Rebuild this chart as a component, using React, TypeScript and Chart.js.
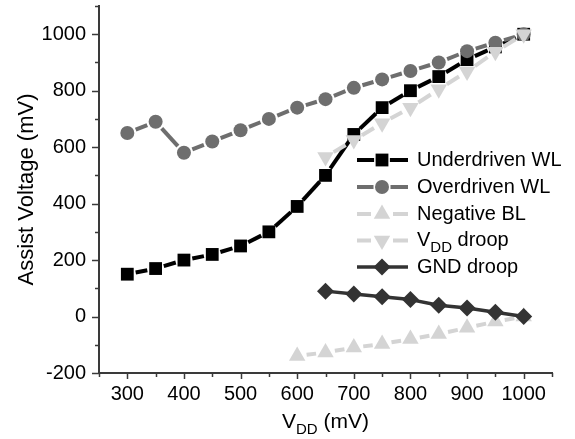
import React, { useEffect, useRef } from 'react';
import { Chart, registerables } from 'chart.js';

Chart.register(...registerables);

// ---------- data ----------
const vddAll = [300, 350, 400, 450, 500, 550, 600, 650, 700, 750, 800, 850, 900, 950, 1000];
const underdrivenWL = [150, 170, 200, 220, 250, 300, 390, 500, 645, 740, 800, 850, 910, 955, 1000];
const overdrivenWL = [650, 690, 580, 620, 660, 700, 740, 770, 810, 840, 870, 900, 940, 970, 1000];

const vddNegBL = [600, 650, 700, 750, 800, 850, 900, 950, 1000];
const negativeBL = [-140, -127, -110, -97, -80, -62, -40, -18, 0];

const vddDroopX = [650, 700, 750, 800, 850, 900, 950, 1000];
const vddDroop = [565, 625, 685, 740, 805, 868, 938, 1000];

const vddGnd = [650, 700, 750, 800, 850, 900, 950, 1000];
const gndDroop = [90, 80, 70, 60, 40, 30, 15, 0];

const xTickLabels = [300, 400, 500, 600, 700, 800, 900, 1000];
const yTickLabels = [-200, 0, 200, 400, 600, 800, 1000];
const xMinorTicks = [250, 350, 450, 550, 650, 750, 850, 950, 1050];
const yMinorTicks = [-100, 100, 300, 500, 700, 900, 1100];

const FONT = "'Liberation Sans', Arial, Helvetica, sans-serif";

type Series = {
  label: string;
  sub?: [string, string, string];
  xs: number[];
  ys: number[];
  color: string;
  shape: string;
  radius: number;
  gap: number;
  lw: number;
};

const seriesList: Series[] = [
  { label: 'Underdriven WL', xs: vddAll, ys: underdrivenWL, color: '#000000', shape: 'square', radius: 6.4, gap: 8.5, lw: 4 },
  { label: 'Overdriven WL', xs: vddAll, ys: overdrivenWL, color: '#6e6e6e', shape: 'circle', radius: 7, gap: 9, lw: 4 },
  { label: 'Negative BL', xs: vddNegBL, ys: negativeBL, color: '#d4d4d4', shape: 'up', radius: 9.5, gap: 9.5, lw: 4 },
  { label: 'VDD droop', sub: ['V', 'DD', ' droop'], xs: vddDroopX, ys: vddDroop, color: '#d4d4d4', shape: 'down', radius: 9.5, gap: 9.5, lw: 4 },
  { label: 'GND droop', xs: vddGnd, ys: gndDroop, color: '#333333', shape: 'diamond', radius: 8.5, gap: 0, lw: 3.5 },
];

function drawMarker(ctx: CanvasRenderingContext2D, shape: string, x: number, y: number, r: number, color: string) {
  ctx.save();
  ctx.fillStyle = color;
  ctx.beginPath();
  if (shape === 'square') {
    ctx.rect(x - r, y - r, 2 * r, 2 * r);
  } else if (shape === 'circle') {
    ctx.arc(x, y, r, 0, Math.PI * 2);
  } else if (shape === 'up' || shape === 'down') {
    const s = shape === 'up' ? -1 : 1;
    for (let k = 0; k < 3; k++) {
      const a = (k * 2 * Math.PI) / 3;
      const px = x + Math.sin(a) * r;
      const py = y + s * Math.cos(a) * r;
      if (k === 0) ctx.moveTo(px, py);
      else ctx.lineTo(px, py);
    }
    ctx.closePath();
  } else if (shape === 'diamond') {
    ctx.moveTo(x, y - r);
    ctx.lineTo(x + r, y);
    ctx.lineTo(x, y + r);
    ctx.lineTo(x - r, y);
    ctx.closePath();
  }
  ctx.fill();
  ctx.restore();
}

const customPlugin = {
  id: 'customDraw',
  beforeDatasetDraw(chart: any, args: any) {
    const ctx: CanvasRenderingContext2D = chart.ctx;
    const s = seriesList[args.index];
    const pts = args.meta.data;
    ctx.save();
    ctx.strokeStyle = s.color;
    ctx.lineWidth = s.lw;
    ctx.lineCap = 'butt';
    ctx.lineJoin = 'round';
    if (s.gap === 0) {
      ctx.beginPath();
      pts.forEach((p: any, i: number) => (i === 0 ? ctx.moveTo(p.x, p.y) : ctx.lineTo(p.x, p.y)));
      ctx.stroke();
    } else {
      for (let i = 0; i < pts.length - 1; i++) {
        const p = pts[i];
        const q = pts[i + 1];
        const dx = q.x - p.x;
        const dy = q.y - p.y;
        const len = Math.hypot(dx, dy);
        if (len <= 2 * s.gap) continue;
        const ux = dx / len;
        const uy = dy / len;
        ctx.beginPath();
        ctx.moveTo(p.x + ux * s.gap, p.y + uy * s.gap);
        ctx.lineTo(q.x - ux * s.gap, q.y - uy * s.gap);
        ctx.stroke();
      }
    }
    ctx.restore();
  },
  afterDatasetDraw(chart: any, args: any) {
    const ctx: CanvasRenderingContext2D = chart.ctx;
    const s = seriesList[args.index];
    args.meta.data.forEach((p: any) => drawMarker(ctx, s.shape, p.x, p.y, s.radius, s.color));
  },
  afterDraw(chart: any) {
    const ctx: CanvasRenderingContext2D = chart.ctx;
    const xs = chart.scales.x;
    const ys = chart.scales.y;
    const area = chart.chartArea;
    ctx.save();
    ctx.strokeStyle = '#3a3a3a';
    ctx.lineWidth = 1.5;
    // x ticks
    const xt = [...xTickLabels.map((v) => [v, 6]), ...xMinorTicks.map((v) => [v, 4])];
    xt.forEach(([v, l]) => {
      const px = Math.round(xs.getPixelForValue(v)) + 0.5;
      ctx.beginPath();
      ctx.moveTo(px, area.bottom);
      ctx.lineTo(px, area.bottom + l);
      ctx.stroke();
    });
    const yt = [...yTickLabels.map((v) => [v, 7]), ...yMinorTicks.map((v) => [v, 4])];
    yt.forEach(([v, l]) => {
      const py = Math.round(ys.getPixelForValue(v)) + 0.5;
      ctx.beginPath();
      ctx.moveTo(area.left, py);
      ctx.lineTo(area.left - l, py);
      ctx.stroke();
    });
    ctx.restore();

    // axis titles
    ctx.save();
    ctx.fillStyle = '#000';
    ctx.textBaseline = 'middle';
    ctx.font = `22px ${FONT}`;
    ctx.translate(27, (area.top + area.bottom) / 2);
    ctx.rotate(-Math.PI / 2);
    ctx.textAlign = 'center';
    ctx.fillText('Assist Voltage (mV)', 0, 0);
    ctx.restore();

    ctx.save();
    ctx.fillStyle = '#000';
    ctx.textBaseline = 'alphabetic';
    const bigF = `21px ${FONT}`;
    const smallF = `15px ${FONT}`;
    ctx.font = bigF;
    const wV = ctx.measureText('V').width;
    const wRest = ctx.measureText(' (mV)').width;
    ctx.font = smallF;
    const wDD = ctx.measureText('DD').width;
    const total = wV + wDD + wRest;
    let tx = (area.left + area.right) / 2 - total / 2;
    const base = 428;
    ctx.font = bigF;
    ctx.fillText('V', tx, base);
    tx += wV;
    ctx.font = smallF;
    ctx.fillText('DD', tx, base + 6);
    tx += wDD;
    ctx.font = bigF;
    ctx.fillText(' (mV)', tx, base);
    ctx.restore();

    // legend
    const rowY = [160, 187, 214, 240.5, 267];
    const lx0 = 357;
    const lx1 = 408;
    const mx = 382;
    const textX = 417;
    seriesList.forEach((s, i) => {
      const y = rowY[i];
      ctx.save();
      ctx.strokeStyle = s.color;
      ctx.lineWidth = s.lw;
      const g = s.gap === 0 ? 0 : s.radius + 1.5;
      ctx.beginPath();
      if (g === 0) {
        ctx.moveTo(lx0, y);
        ctx.lineTo(lx1, y);
      } else {
        ctx.moveTo(lx0, y);
        ctx.lineTo(mx - g, y);
        ctx.moveTo(mx + g, y);
        ctx.lineTo(lx1, y);
      }
      ctx.stroke();
      ctx.restore();
      drawMarker(ctx, s.shape, mx, y, s.radius, s.color);
      ctx.save();
      ctx.fillStyle = '#000';
      ctx.textBaseline = 'middle';
      ctx.textAlign = 'left';
      const big = `20px ${FONT}`;
      const small = `15px ${FONT}`;
      if (s.sub) {
        let x = textX;
        ctx.font = big;
        ctx.fillText(s.sub[0], x, y);
        x += ctx.measureText(s.sub[0]).width;
        ctx.font = small;
        ctx.fillText(s.sub[1], x, y + 7);
        x += ctx.measureText(s.sub[1]).width;
        ctx.font = big;
        ctx.fillText(s.sub[2], x, y);
      } else {
        ctx.font = big;
        ctx.fillText(s.label, textX, y);
      }
      ctx.restore();
    });
  },
};

export default function App() {
  const ref = useRef<HTMLCanvasElement | null>(null);
  useEffect(() => {
    if (!ref.current) return;
    const datasets = seriesList.map((s, i) => ({
      label: s.label,
      data: s.xs.map((x, k) => ({ x, y: s.ys[k] })),
      showLine: false,
      pointRadius: 0,
      pointHoverRadius: 0,
      borderColor: s.color,
      backgroundColor: s.color,
      order: seriesList.length - i,
    }));
    const chart = new Chart(ref.current, {
      type: 'scatter',
      data: { datasets },
      plugins: [customPlugin],
      options: {
        animation: false,
        responsive: false,
        events: [],
        layout: { padding: { left: 0, right: 23, top: 6, bottom: 0 } },
        plugins: { legend: { display: false }, tooltip: { enabled: false } },
        scales: {
          x: {
            type: 'linear',
            min: 250,
            max: 1050,
            afterBuildTicks: (sc: any) => {
              sc.ticks = xTickLabels.map((value) => ({ value }));
            },
            afterFit: (sc: any) => {
              sc.height = 66;
              sc.paddingLeft = 0;
              sc.paddingRight = 0;
            },
            ticks: {
              autoSkip: false,
              maxRotation: 0,
              padding: 2,
              color: '#000',
              font: { family: FONT, size: 20 },
              callback: (v: any) => String(v),
            },
            grid: { drawOnChartArea: false, drawTicks: true, tickLength: 7, color: 'rgba(0,0,0,0)' },
            border: { display: true, color: '#3a3a3a', width: 2 },
          },
          y: {
            type: 'linear',
            min: -200,
            max: 1100,
            afterBuildTicks: (sc: any) => {
              sc.ticks = yTickLabels.map((value) => ({ value }));
            },
            afterFit: (sc: any) => {
              sc.width = 99;
              sc.paddingTop = 0;
              sc.paddingBottom = 0;
            },
            ticks: {
              autoSkip: false,
              padding: 6,
              color: '#000',
              font: { family: FONT, size: 20 },
              callback: (v: any) => String(v),
            },
            grid: { drawOnChartArea: false, drawTicks: true, tickLength: 7, color: 'rgba(0,0,0,0)' },
            border: { display: true, color: '#3a3a3a', width: 2 },
          },
        },
      } as any,
    });
    return () => chart.destroy();
  }, []);
  return (
    <div style={{ position: 'fixed', left: 0, top: 0, width: 575, height: 439, background: '#fff' }}>
      <canvas ref={ref} width={575} height={439} style={{ display: 'block', width: 575, height: 439 }} />
    </div>
  );
}
